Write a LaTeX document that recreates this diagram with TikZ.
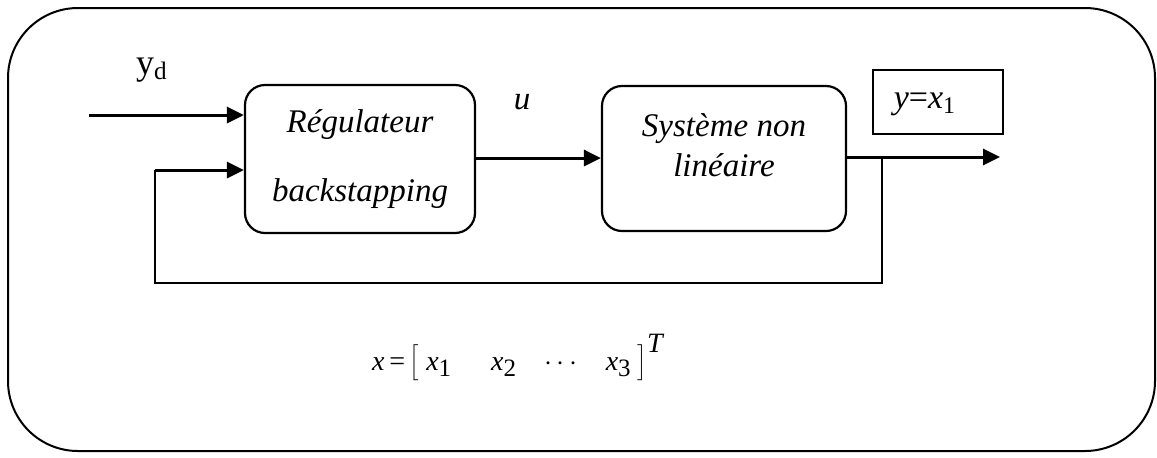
\documentclass[tikz,border=0pt]{standalone}
\usepackage{fontspec}
\setmainfont{Liberation Serif}
\usetikzlibrary{arrows.meta}
\usetikzlibrary{positioning}

\tikzset{
 blk/.style={draw, line width=1.1pt, rounded corners=10pt, inner sep=0pt},
 txt/.style={font=\fontsize{16}{20}\selectfont\itshape, align=center, inner sep=0pt},
 sig/.style={line width=1.5pt, -{Triangle[length=8.5pt,width=8pt]}},
}
\newcommand{\idx}[1]{\raisebox{-0.45ex}{\fontsize{12.5}{14}\selectfont #1}}

\begin{document}
\begin{tikzpicture} [x=0.5pt,y=-0.5pt]
\useasboundingbox (0,0) rectangle (1157,457);
\draw[line width=1pt, rounded corners=35pt] (8,8) rectangle (1155,451);

\node[blk, minimum width=115pt, minimum height=74pt] (reg) at (360,159) {};
\node[txt, font=\fontsize{16.5}{34.5}\selectfont\itshape] (regtxt) at (reg.center) {Régulateur\\backstapping};
\node[blk, minimum width=122pt, minimum height=72.5pt] (sys) at (724,158.5) {};
\node[txt, font=\fontsize{16.5}{20}\selectfont\itshape] (systxt) at (724,145) {Système non\\linéaire};
\node[draw, line width=1pt, minimum width=65pt, minimum height=32pt, inner sep=0pt] (ybox) at (938,102) {};
\node[inner sep=0pt, font=\fontsize{17}{20}\selectfont] (yeq) at (925,104) {\textit{y}=\textit{x}\textsubscript{1}};

\node[inner sep=0pt, font=\fontsize{18}{20}\selectfont] (yd) at (152,70) {y\textsubscript{d}};
\node[inner sep=0pt, font=\fontsize{16.5}{20}\selectfont\itshape] (u) at (522,102) {u};
\node[inner sep=0pt, font=\fontsize{14}{16}\selectfont] (vec) at (518,358)
 {\textit{x}\,=\,$\left[\rule[-6pt]{0pt}{19pt}\right.$\,\textit{x}\idx{1}\hspace{20pt}\textit{x}\idx{2}\hspace{14pt}$\cdots$\hspace{14pt}\textit{x}\idx{3}\,$\left.\rule[-6pt]{0pt}{19pt}\right]^{\textit{T}}$};

% signals
\coordinate (in) at (89,115);
\coordinate (out) at (1000,157);
\coordinate (br) at (882,157);
\coordinate (fb) at (155,170);
\draw[sig] (in) -- (in -| reg.west);
\draw[sig] (reg.east |- 0,158) -- (sys.west |- 0,158);
\draw[sig] (sys.east |- out) -- (out);
\draw[line width=1.2pt] (br) -- (br |- 0,283) -- (fb |- 0,283) -- (fb);
\draw[sig] (fb) -- (fb -| reg.west);
\end{tikzpicture}
\end{document}
